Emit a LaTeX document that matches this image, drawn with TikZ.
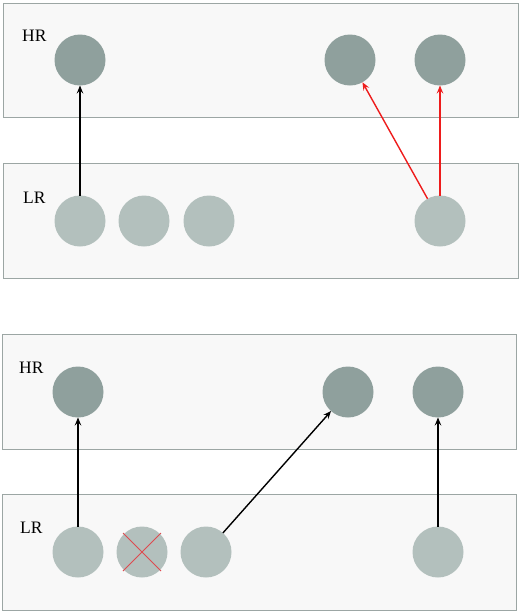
\documentclass[tikz,border=0pt]{standalone}
\usepackage{fontspec}
\setmainfont{Liberation Serif}
\usetikzlibrary{arrows.meta}
\definecolor{boxfill}{HTML}{F8F8F8}
\definecolor{boxline}{HTML}{9CA6A4}
\definecolor{hrcol}{HTML}{8FA09D}
\definecolor{lrcol}{HTML}{B3C0BD}
\definecolor{arrred}{HTML}{EE1C1C}
\definecolor{crossred}{HTML}{DE4A4F}
\tikzset{
  panel/.style={draw=boxline, fill=boxfill, line width=1pt},
  hrnode/.style={circle, fill=hrcol, minimum size=51pt, inner sep=0pt, outer sep=0pt},
  lrnode/.style={circle, fill=lrcol, minimum size=51pt, inner sep=0pt, outer sep=0pt},
  lbl/.style={anchor=base west, inner sep=0pt, font=\fontsize{17.5}{20}\selectfont},
  conn/.style={line width=1.4pt, -{Stealth[length=8pt,width=6.5pt,inset=3pt]}},
  redconn/.style={conn, draw=arrred},
  crossline/.style={draw=crossred, line width=1pt}
}
\begin{document}
\begin{tikzpicture}[x=1pt,y=-1pt]
\useasboundingbox (0,0) rectangle (520,611);
% panels
\draw[panel] (3,3) rectangle (518,117);
\draw[panel] (3,163) rectangle (518,278);
\draw[panel] (2,334) rectangle (516,449);
\draw[panel] (2,494) rectangle (516,610);
% labels
\node[lbl] (t1) at (22,41) {HR};
\node[lbl] (t2) at (23,203) {LR};
\node[lbl] (t3) at (19,373) {HR};
\node[lbl] (t4) at (20,533) {LR};
% top panel nodes
\node[hrnode] (a1) at (80,60) {};
\node[hrnode] (a2) at (350,60) {};
\node[hrnode] (a3) at (440,60) {};
\node[lrnode] (b1) at (80,221) {};
\node[lrnode] (b2) at (144,221) {};
\node[lrnode] (b3) at (209,221) {};
\node[lrnode] (b4) at (440,221) {};
% bottom panel nodes
\node[hrnode] (c1) at (78,392) {};
\node[hrnode] (c2) at (348,392) {};
\node[hrnode] (c3) at (438,392) {};
\node[lrnode] (d1) at (78,552) {};
\node[lrnode] (d2) at (142,552) {};
\node[lrnode] (d3) at (206,552) {};
\node[lrnode] (d4) at (438,552) {};
% connectors top
\draw[conn] (b1) -- (a1);
\draw[redconn] (b4) -- (a2);
\draw[redconn] (b4) -- (a3);
% connectors bottom
\draw[conn] (d1) -- (c1);
\draw[conn] (d3) -- (c2);
\draw[conn] (d4) -- (c3);
% cross
\draw[crossline] ([shift={(-19,-19)}]d2.center) -- ([shift={(19,19)}]d2.center);
\draw[crossline] ([shift={(-19,19)}]d2.center) -- ([shift={(19,-19)}]d2.center);
\end{tikzpicture}
\end{document}
